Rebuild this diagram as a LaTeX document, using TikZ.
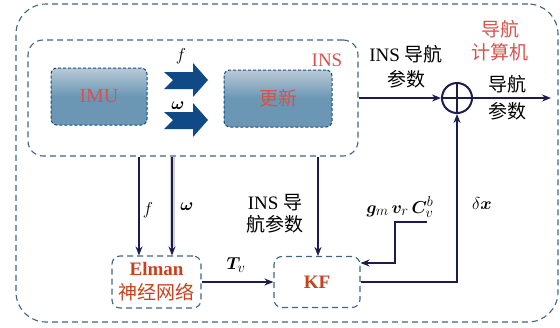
\documentclass[tikz,border=0pt]{standalone}
\usepackage{fontspec}
\usepackage{bm}
\setmainfont{Liberation Serif}
\newfontfamily\cjk{Noto Sans CJK SC}
\usetikzlibrary{arrows.meta,calc}
\definecolor{boxc}{HTML}{3D6585}
\definecolor{linec}{HTML}{1C1C50}
\definecolor{redc}{HTML}{D8514B}
\definecolor{orc}{HTML}{C8401E}
\definecolor{barrow}{HTML}{0F4A86}
\definecolor{fillb}{HTML}{6B97B5}
\definecolor{filltop}{HTML}{B9CAD6}
\tikzset{
  dbox/.style={draw=boxc, line width=1.1pt, dash pattern=on 6pt off 4pt, rectangle},
  sbox/.style={draw=barrow, line width=1pt, dash pattern=on 3pt off 2pt, rectangle, rounded corners=6pt,
    top color=filltop, bottom color=fillb, middle color=fillb, text=redc},
  conn/.style={draw=linec, line width=2pt},
  arr/.style={conn, -{Stealth[length=9pt,width=7pt]}},
  lbl/.style={font=\fontsize{19}{22}\selectfont, inner sep=0pt, align=center},
}
\begin{document}
\begin{tikzpicture}[x=1pt,y=-1pt]
\useasboundingbox (0,0) rectangle (560,327);
% boxes
\node[dbox, rounded corners=30pt, minimum width=542pt, minimum height=318pt] (outer) at (287,163) {};
\node[dbox, rounded corners=15pt, minimum width=330pt, minimum height=116pt] (ins) at (193,98) {};
\node[sbox, minimum width=96pt, minimum height=57pt, font=\fontsize{20}{22}\selectfont] (imu) at (99,96.5) {IMU};
\node[sbox, minimum width=108pt, minimum height=57pt, font=\fontsize{19}{22}\selectfont] (upd) at (278,98.5) {\cjk 更新};
\node[dbox, rounded corners=8pt, minimum width=89pt, minimum height=52pt, text=orc, align=center,
  font=\fontsize{19}{24}\selectfont, inner sep=0pt] (elman) at (156.5,282) {\textbf{Elman}\\{\cjk 神经网络}};
\node[dbox, rounded corners=8pt, minimum width=86pt, minimum height=51pt, text=orc,
  font=\fontsize{19}{22}\selectfont\bfseries] (kf) at (317,282) {KF};
\node[draw=linec, line width=2pt, circle, minimum size=30pt, inner sep=0pt] (sum) at (457,98) {};
\draw[linec, line width=2pt] (sum.north) -- (sum.south) (sum.west) -- (sum.east);
% block arrows
\foreach \yy in {80,120}{
  \fill[barrow] (164,\yy-8) -- (193,\yy-8) -- (193,\yy-17) -- (208,\yy) -- (193,\yy+17)
     -- (193,\yy+9) -- (164,\yy+9) -- (173,\yy) -- cycle;
}
% coordinates
\coordinate (fx) at (139,0);
\coordinate (wx) at (172,0);
\coordinate (px) at (318,0);
\coordinate (outend) at (551,98);
\coordinate (gmstart) at (427,222);
\coordinate (gmcorner) at (395,222);
% connectors
\draw[arr] (ins.east) -- (sum.west);
\draw[arr] (sum.east) -- (outend);
\draw[arr] (kf.east) -| (sum.south);
\draw[arr] (elman.east) -- (kf.west);
\draw[arr] (ins.south -| fx) -- (elman.north -| fx);
\draw[gray!35, line width=5pt] (ins.south -| wx) -- ($(elman.north -| wx)+(0,-8)$);
\draw[arr] (ins.south -| wx) -- (elman.north -| wx);
\draw[arr] (ins.south -| px) -- (kf.north -| px);
\draw[arr] (gmstart) -- (gmcorner) |- ([yshift=19pt]kf.east);
% labels
\node[lbl] (lf) at (181,56) {$f$};
\node[lbl] (lw) at (178,106) {$\bm{\omega}$};
\node[lbl, text=redc] (lins) at (327,60) {INS};
\node[lbl, font=\fontsize{19}{25}\selectfont] (linsp) at (406,67) {INS {\cjk 导航}\\{\cjk 参数}};
\node[lbl, text=redc, font=\fontsize{19}{23}\selectfont] (lcomp) at (500,41) {\cjk 导航\\\cjk 计算机};
\node[lbl, font=\fontsize{19}{27}\selectfont] (lout) at (507,98) {\cjk 导航\\\cjk 参数};
\node[lbl] (lf2) at (148,210) {$f$};
\node[lbl] (lw2) at (187,207) {$\bm{\omega}$};
\node[lbl] (lp2) at (275,214) {INS {\cjk 导}\\{\cjk 航参数}};
\node[lbl] (ltv) at (236,265) {$\bm{T}_{v}$};
\node[lbl] (lgm) at (400,207) {$\bm{g}_{m}\,\bm{v}_{r}\,\bm{C}_{v}^{b}$};
\node[lbl] (ldx) at (482,203) {$\delta\bm{x}$};
\end{tikzpicture}
\end{document}
